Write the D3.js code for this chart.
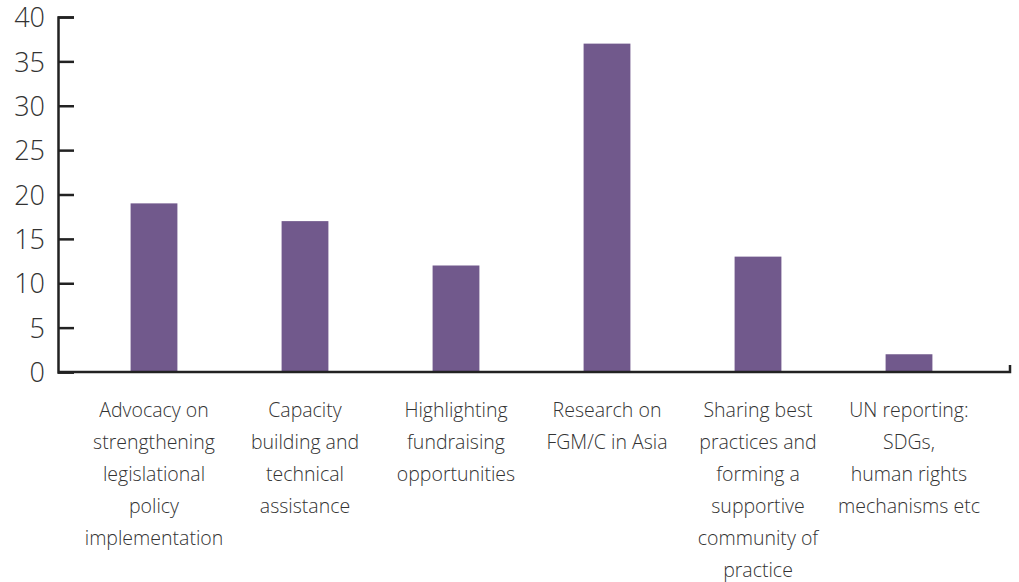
<!DOCTYPE html>
<html>
<head>
<meta charset="utf-8">
<script src="https://cdn.jsdelivr.net/npm/d3@7"></script>
<style>
body { margin: 0; background: #fff; }
text { font-family: "Open Sans", sans-serif; font-weight: 300; fill: #333; }
</style>
</head>
<body>
<svg id="chart"></svg>
<script>
// support areas chart

var categories = [
  ["Advocacy on", "strengthening", "legislational", "policy", "implementation"],
  ["Capacity", "building and", "technical", "assistance"],
  ["Highlighting", "fundraising", "opportunities"],
  ["Research on", "FGM/C in Asia"],
  ["Sharing best", "practices and", "forming a", "supportive", "community of", "practice"],
  ["UN reporting:", "SDGs,", "human rights", "mechanisms etc"]
];
var values = [19, 17, 12, 37, 13, 2];
var yTicks = [0, 5, 10, 15, 20, 25, 30, 35, 40];

var w = 1019, h = 582;

var svg = d3.select("#chart")
.attr("width", w)
.attr("height", h);

// x band scale, one band per category
var x = d3.scaleBand()
.domain(d3.range(categories.length))
.range([78.5, 984.5])
.paddingInner(0.69)
.paddingOuter(0.345);

var y = d3.scaleLinear()
.domain([0, 40])
.range([372, 17]);

// bars
svg.selectAll("rect.bar")
.data(values)
.enter()
.append("rect")
.attr("class", "bar")
.attr("x", function(d, i){ return x(i); })
.attr("y", function(d){ return y(d); })
.attr("width", x.bandwidth())
.attr("height", function(d){ return y(0) - y(d); })
.attr("fill", "#71598c");

// y axis, ticks pointing inward
var yAxis = svg.append("g")
.attr("transform", "translate(58,0)")
.call(d3.axisRight(y).tickValues(yTicks).tickSize(16).tickFormat(d3.format("d")));
yAxis.select(".domain").attr("stroke", "#222").attr("stroke-width", 2.5);
yAxis.selectAll(".tick line").attr("stroke", "#222").attr("stroke-width", 2.5);
yAxis.selectAll(".tick text")
.attr("x", -13)
.attr("dy", "0.36em")
.style("text-anchor", "end")
.style("font-size", "27px")
.style("fill", "#333");

// x axis line with small end tick
svg.append("path")
.attr("d", "M58," + y(0) + "H1010V" + (y(0) - 7))
.attr("fill", "none")
.attr("stroke", "#222")
.attr("stroke-width", 2.5);

// category labels
var labels = svg.selectAll("text.cat")
.data(categories)
.enter()
.append("text")
.attr("class", "cat")
.attr("x", function(d, i){ return x(i) + x.bandwidth() / 2; })
.attr("y", 417)
.style("text-anchor", "middle")
.style("font-size", "19.5px");

labels.selectAll("tspan")
.data(function(d){ return d; })
.enter()
.append("tspan")
.attr("x", function(){ return d3.select(this.parentNode).attr("x"); })
.attr("dy", function(d, i){ return i == 0 ? 0 : 32; })
.text(function(d){ return d; });
</script>
</body>
</html>
